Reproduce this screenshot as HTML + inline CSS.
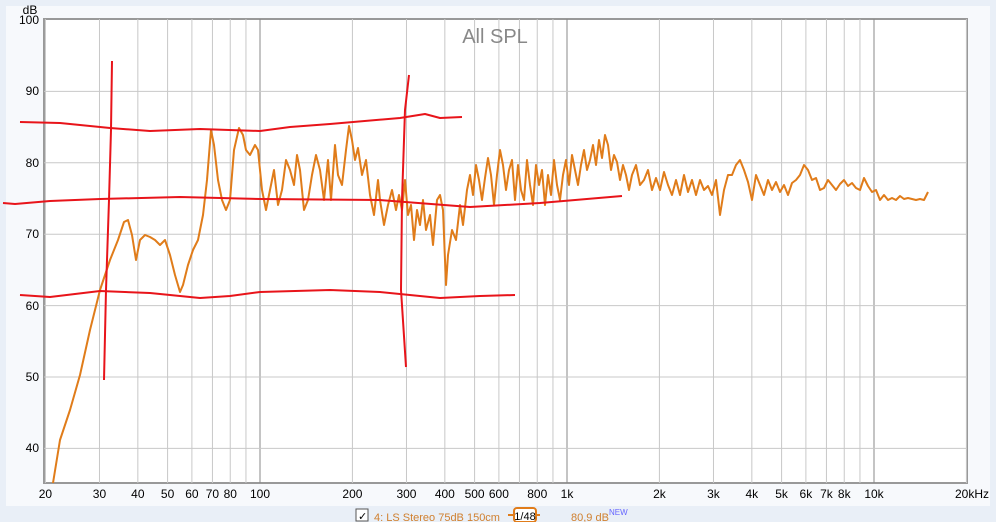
<!DOCTYPE html><html><head><style>body{margin:0;background:#fff}svg{display:block}text{font-family:"Liberation Sans",sans-serif;font-size:12px;fill:#000}</style></head><body>
<svg width="996" height="522" viewBox="0 0 996 522" xmlns="http://www.w3.org/2000/svg">
<rect width="996" height="522" fill="#e9eff7"/>
<rect x="6" y="6" width="984" height="500" fill="#f7f9fc"/>
<rect x="44" y="19" width="923" height="464" fill="#fff" stroke="#999" stroke-width="2"/>
<g id="g" stroke="#c8c8c8" stroke-width="1"></g>
<text x="30" y="14" text-anchor="middle">dB</text>
<g text-anchor="end" style="font-size:13px"><text x="39" y="24">100</text><text x="39" y="95">90</text><text x="39" y="167">80</text><text x="39" y="238">70</text><text x="39" y="310">60</text><text x="39" y="381">50</text><text x="39" y="452">40</text></g>
<g id="xl" text-anchor="middle"></g>
<text x="495" y="43" text-anchor="middle" style="font-size:20px;fill:#888">All SPL</text>
<polyline fill="none" stroke="#e07c1a" stroke-width="2" stroke-linejoin="round" points="53,483 60,440 70,410 80,375 90,330 100,290 110,260 118,240 124,222 128,220 132,235 136,260 140,240 145,235 150,237 155,240 160,245 165,240 170,255 175,275 180,292 183,285 188,265 193,250 198,240 203,215 207,180 211,130 214,145 218,180 222,200 226,210 230,200 234,150 239,128 243,135 246,150 250,155 255,145 258,150 262,190 266,210 270,190 274,170 278,205 282,190 286,160 290,170 294,185 297,155 300,170 304,210 308,200 312,175 316,155 320,170 324,200 328,160 331,200 335,145 338,175 342,185 346,150 349,126 352,140 355,160 358,148 362,175 366,160 370,195 374,215 378,180 380,200 384,225 388,205 392,190 396,210 399,195 402,210 405,180 408,215 411,205 414,240 417,210 420,225 423,200 426,230 430,215 433,245 437,200 440,195 443,210 446,285 448,255 452,230 456,240 460,205 463,225 467,190 470,175 473,195 476,165 479,180 482,200 485,178 488,158 491,175 494,205 497,175 500,150 503,165 506,190 509,170 512,160 515,200 518,165 521,190 524,200 527,160 530,185 533,205 536,165 539,185 542,170 545,205 548,175 551,195 554,160 557,185 560,200 563,175 566,160 569,185 572,155 575,170 578,185 581,165 584,150 587,170 590,160 593,145 596,165 599,140 602,158 605,135 608,145 611,170 614,155 617,162 620,180 623,165 626,175 629,190 632,175 636,165 640,185 644,180 648,170 652,190 656,178 660,190 664,172 668,185 672,195 676,180 680,195 684,175 688,192 692,180 696,195 700,180 704,190 708,186 712,195 716,180 720,215 724,190 728,175 732,175 736,165 740,160 744,170 748,182 752,200 756,175 760,185 764,195 768,180 772,190 776,182 780,192 784,185 788,195 792,183 796,180 800,175 804,165 808,170 812,180 816,178 820,190 824,188 828,180 832,185 836,190 840,184 844,180 848,186 852,183 856,188 860,190 864,178 868,186 872,192 876,190 880,200 884,195 888,200 892,198 896,200 900,196 904,199 908,198 912,199 916,200 920,199 924,200 928,192"/>
<g fill="none" stroke="#e8141a" stroke-width="2" stroke-linejoin="round">
<polyline points="20,122 60,123 110,128 150,131 200,129 260,131 290,127 330,124 400,118 425,114 440,118 462,117"/>
<polyline points="3,203 15,204 50,201 100,199 180,197 260,199 380,200 470,207 540,203 622,196"/>
<polyline points="20,295 50,297 100,291 150,293 200,298 230,296 260,292 330,290 380,292 440,298 480,296 515,295"/>
<polyline points="112,61 111,130 109,200 106,290 104,380"/>
<polyline points="409,75 405,110 402,200 401,290 406,367"/>
</g>
<rect x="356" y="509" width="12" height="12" fill="#fff" stroke="#555"/>
<text x="358" y="520" style="font-size:11px">✓</text>
<text x="374" y="521" style="fill:#d08030;font-size:11px">4: LS Stereo 75dB 150cm</text>
<line x1="508" y1="515" x2="540" y2="515" stroke="#e07c1a" stroke-width="2"/>
<rect x="514" y="508" width="22" height="14" rx="3" fill="#fff" stroke="#e07c1a" stroke-width="2"/>
<text x="525" y="520" text-anchor="middle" style="font-size:11px">1/48</text>
<text x="571" y="521" style="fill:#d08030;font-size:11px">80,9 dB</text><text x="609" y="515" style="font-size:8px;fill:#66f">NEW</text>
<script>
var g=document.getElementById('g'),xl=document.getElementById('xl'),ns='http://www.w3.org/2000/svg';
function X(f){return 260+307*Math.log10(f/100);}
for(var d=10;d<=10000;d*=10)for(var m=1;m<10;m++){var f=d*m;if(f<20||f>20000)continue;var x=X(f);var l=document.createElementNS(ns,'line');l.setAttribute('x1',x);l.setAttribute('x2',x);l.setAttribute('y1',19);l.setAttribute('y2',483);if(m==1)l.setAttribute('stroke','#888');g.appendChild(l);}
for(var v=90;v>=40;v-=10){var y=20+(100-v)*7.14;var l=document.createElementNS(ns,'line');l.setAttribute('x1',44);l.setAttribute('x2',967);l.setAttribute('y1',y);l.setAttribute('y2',y);g.appendChild(l);}
[[20,'20'],[30,'30'],[40,'40'],[50,'50'],[60,'60'],[70,'70'],[80,'80'],[100,'100'],[200,'200'],[300,'300'],[400,'400'],[500,'500'],[600,'600'],[800,'800'],[1000,'1k'],[2000,'2k'],[3000,'3k'],[4000,'4k'],[5000,'5k'],[6000,'6k'],[7000,'7k'],[8000,'8k'],[10000,'10k'],[20000,'20kHz']].forEach(function(a){var t=document.createElementNS(ns,'text');t.setAttribute('x',a[0]==20000?972:X(a[0]));t.setAttribute('y',498);t.textContent=a[1];xl.appendChild(t);});
</script>
</svg></body></html>
